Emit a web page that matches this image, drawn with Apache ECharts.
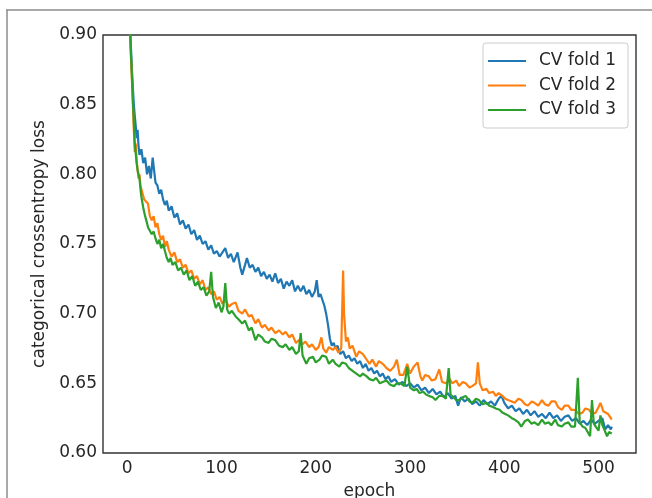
<!DOCTYPE html>
<html>
<head>
<meta charset="utf-8">
<script src="https://cdn.jsdelivr.net/npm/echarts@6/dist/echarts.min.js"></script>
<style>
  html, body { margin: 0; padding: 0; background: #fff; }
  #main { width: 652px; height: 498px; }
</style>
</head>
<body>
<div id="main"></div>
<script>
// tick labels
var epochTicks = [0, 100, 200, 300, 400, 500];

// loss per epoch: [epoch, loss]
var fold1 = [
  [0,1.06],[1,0.99],[2,0.94],[3,0.905],[4,0.89],[5,0.875],[6,0.862],[7,0.85],[8,0.842],[9,0.835],
  [10,0.826],[11,0.832],[12,0.82],[13,0.814],[15,0.818],[17,0.808],[19,0.812],[21,0.80],[23,0.806],[25,0.797],
  [27,0.812],[28,0.813],[30,0.794],[32,0.792],[34,0.786],[36,0.789],[38,0.782],[40,0.778],[42,0.781],[44,0.774],
  [47,0.777],[50,0.769],[53,0.772],[56,0.764],[59,0.767],[62,0.761],[65,0.764],[68,0.757],[71,0.76],[74,0.753],
  [77,0.756],[80,0.75],[83,0.752],[86,0.746],[89,0.749],[92,0.743],[95,0.745],[98,0.741],[101,0.744],[104,0.747],
  [107,0.74],[110,0.743],[113,0.737],[117,0.744],[120,0.733],[122,0.728],[125,0.735],[127,0.74],[130,0.733],[133,0.735],
  [136,0.73],[139,0.733],[142,0.727],[145,0.73],[148,0.725],[151,0.728],[154,0.723],[157,0.729],[160,0.722],[163,0.725],
  [166,0.718],[169,0.723],[172,0.72],[175,0.724],[178,0.716],[181,0.72],[184,0.716],[187,0.72],[190,0.714],[193,0.717],
  [196,0.712],[199,0.716],[201,0.724],[203,0.712],[205,0.714],[207,0.71],[209,0.706],[211,0.70],[213,0.692],[215,0.682],
  [217,0.677],[219,0.679],[221,0.675],[223,0.677],[226,0.671],[229,0.673],[232,0.668],[235,0.67],[238,0.666],[241,0.668],
  [244,0.664],[247,0.666],[250,0.661],[253,0.664],[256,0.659],[259,0.661],[262,0.657],[265,0.659],[268,0.655],[271,0.657],
  [274,0.653],[277,0.655],[280,0.651],[284,0.653],[288,0.649],[292,0.651],[296,0.648],[300,0.65],[304,0.647],[308,0.649],
  [312,0.645],[316,0.647],[320,0.643],[324,0.646],[328,0.642],[332,0.644],[336,0.64],[340,0.643],[344,0.639],[348,0.641],
  [351,0.634],[354,0.64],[358,0.637],[362,0.639],[366,0.635],[370,0.637],[374,0.634],[378,0.638],[382,0.635],[386,0.637],
  [390,0.634],[394,0.639],[397,0.641],[400,0.636],[404,0.632],[408,0.634],[412,0.63],[416,0.632],[420,0.628],[424,0.631],
  [428,0.627],[432,0.63],[436,0.626],[440,0.628],[444,0.625],[448,0.629],[452,0.625],[456,0.627],[460,0.623],[464,0.626],
  [468,0.627],[472,0.623],[476,0.625],[480,0.621],[484,0.623],[488,0.62],[492,0.624],[496,0.621],[500,0.623],[504,0.625],
  [507,0.617],[510,0.62],[513,0.617],[514,0.619]
];

var fold2 = [
  [0,1.04],[1,0.97],[2,0.93],[3,0.90],[4,0.883],[5,0.868],[6,0.85],[7,0.832],[8,0.816],[9,0.822],
  [10,0.81],[11,0.803],[12,0.797],[13,0.80],[14,0.792],[16,0.787],[18,0.782],[20,0.783],[22,0.779],[24,0.77],
  [26,0.767],[28,0.77],[30,0.762],[32,0.765],[34,0.757],[36,0.753],[38,0.756],[40,0.748],[42,0.752],[44,0.746],
  [47,0.741],[50,0.744],[53,0.737],[56,0.739],[59,0.733],[62,0.735],[65,0.729],[68,0.731],[71,0.725],[74,0.727],
  [77,0.721],[80,0.724],[83,0.717],[86,0.719],[89,0.714],[92,0.716],[95,0.71],[98,0.712],[101,0.707],[104,0.71],
  [108,0.705],[111,0.707],[115,0.708],[118,0.702],[122,0.70],[125,0.703],[129,0.698],[132,0.699],[136,0.693],[139,0.696],
  [143,0.69],[146,0.692],[150,0.688],[153,0.69],[157,0.686],[161,0.688],[165,0.685],[168,0.687],[172,0.683],[175,0.685],
  [179,0.679],[182,0.681],[186,0.678],[189,0.68],[193,0.676],[196,0.678],[200,0.674],[203,0.676],[206,0.683],[208,0.675],
  [211,0.672],[214,0.676],[218,0.674],[221,0.676],[224,0.672],[227,0.675],[229,0.731],[230,0.70],[232,0.68],[234,0.683],
  [236,0.675],[239,0.677],[243,0.669],[246,0.673],[250,0.671],[253,0.668],[257,0.664],[260,0.667],[264,0.662],[267,0.666],
  [271,0.664],[275,0.661],[279,0.659],[283,0.662],[286,0.667],[289,0.656],[293,0.656],[297,0.664],[300,0.657],[304,0.662],
  [308,0.665],[311,0.655],[313,0.652],[316,0.656],[320,0.655],[323,0.652],[327,0.653],[331,0.66],[334,0.651],[338,0.65],
  [342,0.653],[345,0.65],[349,0.652],[352,0.648],[356,0.651],[359,0.65],[363,0.647],[366,0.648],[370,0.65],[372,0.665],
  [374,0.65],[377,0.645],[381,0.646],[384,0.643],[388,0.644],[391,0.641],[394,0.643],[398,0.641],[401,0.639],[404,0.638],
  [408,0.637],[411,0.636],[415,0.639],[418,0.638],[422,0.635],[425,0.634],[429,0.637],[432,0.636],[436,0.634],[440,0.638],
  [443,0.635],[447,0.634],[450,0.637],[454,0.637],[457,0.633],[461,0.631],[464,0.634],[468,0.634],[471,0.631],[475,0.631],
  [479,0.628],[483,0.629],[486,0.632],[490,0.631],[493,0.628],[497,0.629],[500,0.633],[502,0.636],[505,0.63],[507,0.631],
  [510,0.628],[513,0.625],[514,0.624]
];

var fold3 = [
  [0,1.05],[1,0.98],[2,0.935],[3,0.905],[4,0.886],[5,0.87],[6,0.853],[7,0.838],[8,0.822],[9,0.815],
  [10,0.808],[11,0.803],[12,0.80],[13,0.797],[14,0.79],[15,0.784],[16,0.78],[17,0.776],[19,0.77],[21,0.765],
  [22,0.762],[24,0.761],[26,0.757],[28,0.759],[30,0.754],[32,0.75],[34,0.753],[36,0.747],[38,0.75],[40,0.745],
  [42,0.74],[44,0.737],[46,0.74],[48,0.735],[51,0.737],[54,0.731],[57,0.733],[60,0.728],[63,0.731],[66,0.724],
  [69,0.727],[72,0.72],[75,0.723],[78,0.717],[81,0.719],[84,0.713],[87,0.716],[89,0.73],[91,0.712],[94,0.704],
  [97,0.708],[100,0.701],[102,0.705],[104,0.722],[106,0.703],[108,0.70],[111,0.702],[115,0.698],[118,0.696],[122,0.693],
  [125,0.695],[129,0.688],[132,0.69],[136,0.681],[139,0.685],[143,0.683],[146,0.68],[150,0.679],[153,0.682],[157,0.681],
  [161,0.677],[165,0.676],[168,0.678],[172,0.674],[175,0.676],[179,0.671],[182,0.673],[184,0.686],[186,0.67],[190,0.664],
  [193,0.668],[197,0.669],[200,0.665],[204,0.667],[207,0.67],[211,0.669],[214,0.664],[218,0.667],[221,0.664],[225,0.662],
  [228,0.665],[232,0.664],[235,0.661],[239,0.659],[243,0.657],[247,0.655],[250,0.657],[254,0.655],[257,0.653],[261,0.652],
  [264,0.654],[268,0.65],[271,0.651],[275,0.652],[279,0.649],[283,0.648],[286,0.65],[290,0.65],[294,0.648],[297,0.662],
  [300,0.647],[304,0.645],[307,0.646],[310,0.643],[314,0.644],[317,0.642],[320,0.641],[324,0.64],[327,0.638],[331,0.641],
  [335,0.641],[338,0.639],[341,0.661],[343,0.642],[345,0.641],[349,0.638],[352,0.638],[356,0.64],[359,0.641],[363,0.637],
  [366,0.636],[370,0.639],[373,0.638],[377,0.635],[381,0.636],[384,0.634],[388,0.633],[391,0.632],[395,0.631],[398,0.629],
  [401,0.628],[404,0.627],[408,0.625],[411,0.624],[415,0.622],[418,0.619],[422,0.623],[425,0.624],[429,0.621],[432,0.622],
  [436,0.62],[440,0.624],[443,0.621],[447,0.622],[450,0.62],[454,0.624],[457,0.62],[461,0.619],[464,0.621],[468,0.622],
  [471,0.619],[475,0.619],[478,0.654],[480,0.622],[483,0.619],[486,0.618],[488,0.617],[491,0.612],[493,0.638],[495,0.621],
  [497,0.619],[500,0.616],[502,0.627],[504,0.62],[506,0.617],[509,0.612],[511,0.615],[513,0.616],[514,0.614]
];

var foldNames = ['CV fold 1', 'CV fold 2', 'CV fold 3'];
var foldColors = ['#1f77b4', '#ff7f0e', '#2ca02c'];
var folds = [fold1, fold2, fold3];

var chart = echarts.init(document.getElementById('main'));

var series = folds.map(function (d, i) {
  return {
    name: foldNames[i],
    type: 'line',
    data: d,
    symbol: 'none',
    showSymbol: false,
    clip: true,
    lineStyle: { width: 2.2, color: foldColors[i] },
    itemStyle: { color: foldColors[i] }
  };
});

var option = {
  animation: false,
  textStyle: { fontFamily: 'DejaVu Sans' },
  grid: {
    left: 103, top: 35, right: 16, bottom: 45,
    outerBoundsMode: 'none',
    show: true, borderColor: '#333', borderWidth: 1.4, backgroundColor: '#fff'
  },
  xAxis: {
    type: 'value', min: -25.7, max: 539.7,
    name: 'epoch', nameLocation: 'middle', nameGap: 30,
    nameTextStyle: { fontSize: 17, color: '#262626' },
    axisLine: { show: false }, axisTick: { show: false }, splitLine: { show: false },
    axisLabel: { customValues: epochTicks, fontSize: 17, color: '#262626', margin: 7 }
  },
  yAxis: {
    type: 'value', min: 0.6, max: 0.9, interval: 0.05,
    name: 'categorical crossentropy loss', nameLocation: 'middle', nameGap: 52, nameRotate: 90,
    nameTextStyle: { fontSize: 17, color: '#262626' },
    axisLine: { show: false }, axisTick: { show: false }, splitLine: { show: false },
    axisLabel: {
      fontSize: 17, color: '#262626', margin: 6,
      formatter: function (v) { return v.toFixed(2); }
    }
  },
  legend: {
    orient: 'vertical', left: 483, top: 43,
    padding: [9, 12, 9, 4],
    itemWidth: 38, itemHeight: 18, itemGap: 6.5,
    backgroundColor: 'rgba(255,255,255,0.8)',
    borderColor: '#ccc', borderWidth: 1, borderRadius: 3,
    itemStyle: { opacity: 0 },
    textStyle: { fontSize: 17, color: '#262626', lineHeight: 18, padding: [0, 0, 0, 8] },
    data: foldNames
  },
  // outer frame of the figure
  graphic: [
    { type: 'line', shape: { x1: 6, y1: 10, x2: 652, y2: 10 }, style: { stroke: '#8c8c8c', lineWidth: 1.5 } },
    { type: 'line', shape: { x1: 7, y1: 10, x2: 7, y2: 498 }, style: { stroke: '#8c8c8c', lineWidth: 1.5 } }
  ],
  series: series
};

chart.setOption(option);
</script>
</body>
</html>
